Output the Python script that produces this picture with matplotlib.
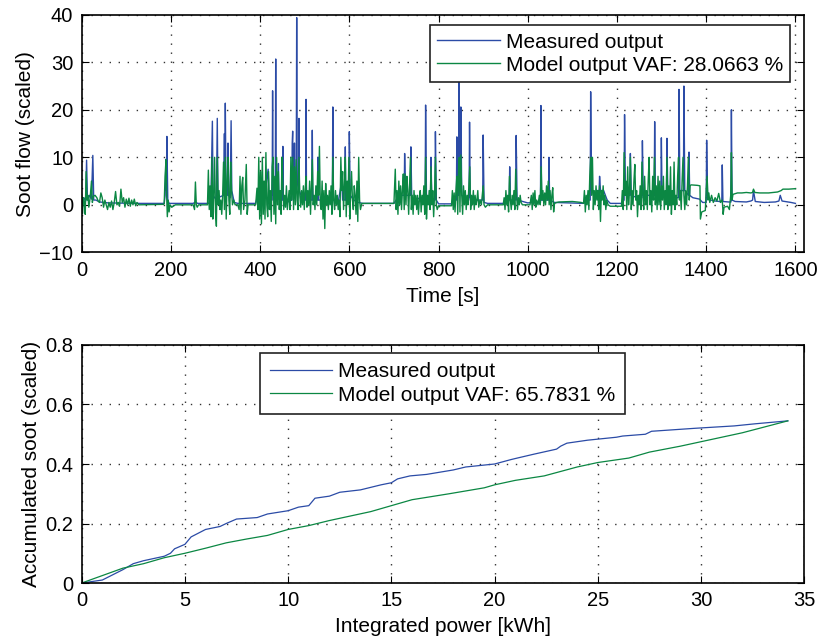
import matplotlib
matplotlib.use('Agg')
import matplotlib.pyplot as plt

# top panel: soot flow vs time, (time [s], value) break points
measured_flow = [
    (0, 0.5), (5, 1.5), (9, 0.8), (11, 9.4), (13, 1.0), (18, 2.0), (22, 1.2), (25, 10.4), (27, 1.0),
    (32, 1.0), (40, 0.6), (60, 0.4), (130, 0.3), (185, 0.3), (187, 2.0), (189, 9.6), (190, 3.0),
    (191, 14.4), (193, 1.0), (196, 0.3), (250, 0.3), (255, 0.6), (260, 0.3), (285, 0.3), (290, 2.0),
    (293, 17.6), (294.5, 2.0), (302, 1.0), (304, 18.2), (305.5, 1.5), (318, 2.0), (320, 15.0),
    (321, 4.0), (322, 21.4), (323.5, 3.0), (327, 2.0), (328, 13.0), (329.5, 2.0), (333, 1.5),
    (335, 17.7), (336.5, 3.0), (342, 0.5), (350, 0.3), (390, 0.3), (395, 2.0), (400, 4.0),
    (405, 2.0), (410, 1.5), (418, 7.5), (420, 1.0), (427, 1.0), (428, 24.0), (429, 2.0), (434, 2.0),
    (435, 30.7), (436, 3.0), (440, 2.0), (441, 8.7), (442, 1.5), (450, 1.0), (451, 12.3), (452, 1.0),
    (460, 0.5), (471, 1.0), (472, 13.0), (473, 15.5), (474, 4.0), (476, 3.0), (477, 13.0), (478, 4.0),
    (481, 3.0), (482, 39.4), (483, 5.0), (486, 3.0), (487, 18.2), (488, 3.0), (495, 1.0), (502, 1.0),
    (503, 22.2), (504, 1.0), (516, 1.0), (517, 15.7), (518, 1.0), (529, 1.0), (530, 10.0), (531, 1.0),
    (545, 1.0), (562, 1.0), (563, 20.6), (564, 1.0), (575, 0.5), (583, 5.0), (585, 1.0), (590, 1.0),
    (591, 12.2), (592, 1.0), (596, 1.0), (599, 1.0), (600, 15.4), (602, 2.0), (610, 1.0), (620, 0.5),
    (630, 0.3), (700, 0.3), (705, 1.0), (715, 2.0), (723, 2.0), (724, 10.8), (726, 2.0), (730, 2.0),
    (737, 2.0), (738, 12.2), (740, 1.0), (745, 1.0), (760, 1.5), (770, 1.5), (771, 21.0), (773, 1.0),
    (782, 1.0), (783, 10.0), (785, 1.0), (792, 1.0), (793, 15.4), (795, 1.0), (800, 0.2), (830, 0.2),
    (838, 1.0), (840, 1.0), (841, 14.3), (843, 2.0), (845, 2.0), (846, 30.0), (847.5, 3.0), (849, 3.0),
    (850, 20.6), (852, 2.0), (860, 1.5), (868.5, 1.5), (869.5, 17.4), (871, 1.0), (885, 1.0),
    (899, 1.0), (900, 14.7), (902, 0.5), (910, 0.3), (945, 0.3), (955, 1.0), (958.5, 1.0),
    (959.5, 8.0), (961, 1.0), (973, 1.0), (974, 14.6), (976, 1.0), (985, 0.8), (1000, 0.4),
    (1010, 0.5), (1028.5, 0.5), (1029.5, 20.9), (1031, 1.0), (1046.5, 1.0), (1047.5, 10.0),
    (1049, 1.0), (1060, 0.5), (1125, 0.3), (1135, 1.0), (1140, 1.0), (1141, 23.8), (1143, 3.0),
    (1150, 2.0), (1155, 3.0), (1160, 3.0), (1161, 6.0), (1163, 3.0), (1170, 3.0), (1178, 1.0),
    (1185, 0.3), (1210, 0.3), (1216, 1.0), (1217, 19.0), (1219, 2.0), (1225, 2.0), (1229, 2.0),
    (1230, 10.8), (1232, 2.0), (1245, 1.5), (1256, 1.5), (1257, 13.5), (1259, 2.0), (1270, 2.0),
    (1283.5, 2.0), (1284.5, 17.5), (1286, 2.0), (1298.5, 2.0), (1299.5, 14.1), (1301, 2.0),
    (1311, 2.0), (1312, 14.0), (1314, 2.0), (1325, 1.5), (1338, 1.5), (1339, 24.3), (1341, 3.0),
    (1349, 3.0), (1350, 25.0), (1352, 3.0), (1360.5, 2.0), (1361.5, 11.1), (1363, 2.0), (1370, 1.5),
    (1385, 1.2), (1392, 0.5), (1400, 0.5), (1401, 13.6), (1403, 2.0), (1410, 1.0), (1420, 0.8),
    (1430, 0.7), (1435, 0.7), (1436, 8.4), (1437.5, 0.7), (1450, 0.6), (1455.5, 0.6), (1456.5, 20.0),
    (1458, 1.0), (1465, 0.7), (1490, 0.6), (1500, 0.8), (1504, 1.0), (1506, 3.0), (1510, 0.7),
    (1530, 0.5), (1555, 0.6), (1563, 0.8), (1566, 2.0), (1570, 0.8), (1590, 0.5), (1600, 0.3),
]

model_flow = [
    (0, 2.2), (2, -1.8), (4, 1.5), (6, 0.5), (8, -2.0), (10, 7.0), (12, 1.0), (14, 2.0), (16, -0.5),
    (19, 1.5), (22, 5.0), (24, 0.5), (26, 1.8), (30, 2.0), (34, 1.5), (37, 0.8), (40, 0.5), (43, 2.5),
    (46, 1.5), (49, -0.5), (52, 1.0), (55, 0.0), (58, -1.0), (61, 0.5), (64, -0.5), (67, 0.8),
    (70, -1.0), (73, 0.5), (76, 2.8), (79, 0.0), (82, 0.5), (85, -0.3), (88, 3.3), (91, 0.5),
    (94, 1.5), (97, -0.5), (100, 1.2), (103, 0.0), (106, 1.4), (109, -0.3), (112, 1.0), (115, 0.0),
    (118, 1.2), (121, -0.2), (124, 0.5), (128, 0.0), (184, 0.1), (185, 0.3), (187, 6.0), (189, 9.5),
    (190.5, 2.0), (192, -2.5), (194, 1.0), (196, -1.5), (198, 0.0), (202, -0.5), (210, 0.0),
    (250, 0.0), (253, -1.0), (255, 4.8), (257, 0.0), (259, -0.5), (262, 0.0), (282, 0.0), (284, 7.3),
    (286, -1.0), (288, 4.0), (290, -2.5), (292, 10.0), (294, -3.0), (296, 2.0), (298, 10.0),
    (300, -1.5), (302, -4.5), (304, 10.0), (306, 0.0), (308, 3.0), (310, -1.0), (312, 1.0),
    (314, -2.0), (316, 2.0), (318, 9.0), (320, -1.0), (322, 10.0), (324, -3.0), (326, 5.0),
    (328, 10.0), (330, 1.0), (332, -2.0), (334, 9.0), (336, 3.0), (338, 0.0), (341, 1.0), (344, 0.0),
    (350, 0.0), (353, -1.0), (355, 6.0), (357, -2.0), (359, 4.0), (361, 5.8), (363, -1.0), (366, 1.0),
    (369, 8.5), (371, -2.0), (373, 0.0), (376, 0.0), (390, 0.0), (393, 3.5), (395, -1.0), (397, 10.0),
    (399, -3.0), (401, 7.0), (403, -4.0), (405, 10.0), (407, -2.0), (409, 5.0), (411, -3.0),
    (413, 11.0), (415, 0.0), (417, -2.5), (419, 7.0), (421, -1.0), (423, 3.0), (425, -3.5), (427, 8.0),
    (429, 10.0), (431, -2.0), (433, 6.0), (435, -4.0), (437, 10.0), (439, 0.0), (441, 7.0),
    (443, -1.0), (445, 3.0), (447, -2.0), (449, 10.0), (451, 4.0), (453, -1.0), (455, 2.0),
    (457, -0.5), (459, 4.0), (461, -1.0), (463, 1.0), (465, 3.0), (467, -1.0), (469, 10.0), (471, 1.0),
    (473, 10.0), (475, -1.0), (477, 8.0), (479, 0.0), (481, 9.5), (483, 1.0), (485, -1.0), (487, 10.0),
    (489, 2.0), (491, -0.5), (493, 3.0), (495, 0.0), (497, 4.0), (499, -1.0), (501, 3.0), (503, 6.0),
    (505, -0.5), (507, 3.0), (509, 0.0), (511, 5.0), (513, -2.0), (515, 4.0), (517, 9.5), (519, 0.0),
    (521, 2.0), (523, -1.0), (525, 4.0), (527, 0.0), (529, 7.0), (531, 2.0), (533, 12.3), (535, 0.0),
    (537, -1.0), (539, 5.0), (541, -3.0), (543, 3.0), (545, -5.0), (547, 4.5), (549, 0.0), (551, 2.0),
    (553, -1.0), (555, 3.0), (557, 0.0), (559, 4.0), (561, -2.0), (563, 10.0), (565, 1.0), (567, -1.0),
    (569, 3.0), (571, 0.0), (573, 2.0), (575, -1.0), (577, 1.0), (579, -2.5), (581, 10.0), (583, 3.0),
    (585, 7.0), (587, -1.0), (589, 4.0), (591, 10.0), (593, -2.5), (595, 5.0), (597, 0.0), (599, 10.0),
    (601, -3.0), (603, 3.0), (605, 7.0), (607, 1.0), (609, -1.0), (611, 4.0), (613, 2.0), (615, -2.0),
    (617, 5.0), (619, -3.5), (621, 10.0), (623, 1.0), (625, -1.0), (628, 0.3), (700, 0.3), (703, 7.5),
    (705, -1.0), (707, 3.0), (709, -2.0), (711, 5.0), (713, 0.0), (715, 4.0), (717, -1.0), (719, 3.0),
    (721, 6.5), (723, -1.0), (725, 6.5), (727, 0.0), (729, 6.0), (731, 3.0), (733, -2.0), (735, 4.0),
    (737, 10.0), (739, -1.0), (741, 2.0), (743, -2.0), (745, 3.0), (747, 0.0), (749, 2.0), (751, -1.0),
    (753, 2.0), (755, -2.0), (757, 1.0), (759, 3.0), (761, -1.5), (763, 2.0), (765, 0.0), (767, 4.0),
    (769, -2.0), (771, 10.0), (773, -3.0), (775, 2.0), (777, 0.0), (779, 3.0), (781, -1.0), (783, 8.0),
    (785, 0.0), (787, 3.0), (789, -2.5), (791, 2.0), (793, 10.0), (795, 0.0), (797, -1.0), (800, -0.2),
    (829, -0.2), (831, 3.0), (833, -1.0), (835, 2.5), (837, -1.5), (839, 3.0), (841, 6.0), (843, -2.0),
    (845, 8.0), (846.5, 10.0), (848, -1.5), (850, 10.5), (852, 2.0), (854, -2.0), (856, 4.0),
    (858, 0.0), (860, 3.0), (862, -1.0), (864, 2.0), (866, 0.0), (868, 4.0), (870, 8.0), (872, -1.0),
    (874, 2.0), (876, 0.0), (878, 3.0), (880, -1.0), (882, 2.0), (884, 0.0), (886, 1.0), (888, 3.0),
    (890, -0.5), (893, 1.0), (896, 0.0), (898, 2.0), (900, 4.0), (902, 0.0), (905, -0.5), (910, 0.0),
    (945, 0.0), (947, 1.5), (949, -1.0), (951, 3.0), (953, 0.0), (955, 2.0), (957, -1.5), (959, 6.0),
    (961, 1.0), (963, -1.0), (965, 2.0), (967, 0.0), (969, 3.0), (971, -1.0), (973, 7.5), (975, 2.0),
    (977, -1.0), (979, 1.5), (981, 0.0), (983, 2.0), (985, 0.5), (988, 0.0), (1005, 0.0), (1008, 2.0),
    (1010, -1.0), (1012, 2.5), (1014, 0.0), (1016, 3.0), (1018, -0.5), (1020, 1.0), (1023, 0.0),
    (1026, 2.0), (1028, 0.0), (1030, 8.0), (1032, 1.0), (1034, 3.0), (1036, 0.0), (1038, 2.5),
    (1040, 0.0), (1042, 4.0), (1044, 1.0), (1046, 5.0), (1048, 0.0), (1050, 3.0), (1052, -1.0),
    (1054, 2.0), (1056, 3.6), (1058, -1.5), (1060, 0.3), (1065, 0.5), (1070, 0.6), (1100, 0.7),
    (1120, 0.5), (1125, 0.3), (1127, 3.0), (1129, -1.5), (1131, 2.0), (1133, 0.0), (1135, 3.0),
    (1137, -1.0), (1139, 6.0), (1141, 10.0), (1143, 2.0), (1145, 10.0), (1147, -1.0), (1149, 3.0),
    (1151, 0.0), (1153, 4.0), (1155, 1.0), (1157, 3.0), (1159, -1.0), (1161, 4.0), (1163, -3.5),
    (1165, 3.0), (1167, 1.0), (1169, 4.0), (1171, 0.0), (1173, 2.0), (1175, -1.0), (1177, 1.0),
    (1180, 0.0), (1185, -0.3), (1210, -0.3), (1212, 3.0), (1214, -1.0), (1216, 11.0), (1218, 2.0),
    (1220, 5.0), (1222, -1.0), (1224, 8.0), (1226, 0.0), (1228, 3.0), (1230, 10.0), (1232, -1.0),
    (1234, 3.0), (1236, 0.0), (1238, 5.0), (1240, 8.5), (1242, 1.0), (1244, 3.0), (1246, -2.5),
    (1248, 2.0), (1250, 0.0), (1252, 4.0), (1254, -1.0), (1256, 9.0), (1258, 2.0), (1260, -1.0),
    (1262, 6.0), (1264, 0.0), (1266, 3.0), (1268, -1.0), (1270, 5.0), (1272, 10.0), (1274, 0.0),
    (1276, 3.0), (1278, -1.5), (1280, 6.0), (1282, 1.0), (1284, 10.0), (1286, 0.0), (1288, 4.0),
    (1290, -1.0), (1292, 6.0), (1294, 0.0), (1296, 5.0), (1298, -1.0), (1300, 4.0), (1302, 1.0),
    (1304, 6.0), (1306, -1.0), (1308, 3.0), (1310, 0.0), (1312, 10.0), (1314, -1.0), (1316, 4.0),
    (1318, 0.0), (1320, 8.0), (1322, -2.0), (1324, 3.0), (1326, 0.0), (1328, 9.0), (1330, -1.0),
    (1332, 2.0), (1334, 0.0), (1336, 6.0), (1338, 10.0), (1340, 1.0), (1342, 3.0), (1344, -1.0),
    (1346, 5.0), (1348, 10.0), (1350, 2.0), (1352, -1.0), (1354, 3.0), (1356, 0.0), (1358, 4.0),
    (1360, 10.0), (1362, 1.0), (1364, 4.0), (1366, 4.2), (1380, 4.1), (1386, 4.0), (1387, -3.0),
    (1390, -1.5), (1398, -1.2), (1400, 3.0), (1402, 6.0), (1404, 1.0), (1406, 2.5), (1408, 0.5),
    (1412, 2.0), (1416, 0.5), (1420, 1.5), (1424, 0.8), (1428, 2.4), (1432, 0.5), (1436, 1.0),
    (1438, -2.0), (1440, -0.5), (1448, -0.3), (1452, -1.0), (1455, 2.0), (1456.5, 11.0), (1458, 1.0),
    (1460, 2.2), (1470, 2.5), (1480, 2.5), (1490, 2.6), (1500, 2.5), (1504, 2.6), (1506, 3.3),
    (1509, 2.6), (1520, 2.5), (1540, 2.5), (1560, 2.7), (1568, 3.0), (1572, 3.3), (1585, 3.3),
    (1600, 3.4),
]

# bottom panel: accumulated soot vs integrated power [kWh]
measured_acc = [
    (0, 0.0), (1, 0.01), (2, 0.045), (2.5, 0.065), (3, 0.075), (4, 0.09), (4.3, 0.1), (4.5, 0.115),
    (5, 0.13), (5.3, 0.155), (6, 0.18), (6.7, 0.19), (7, 0.2), (7.5, 0.215), (8.5, 0.22), (9, 0.232),
    (10, 0.243), (10.5, 0.255), (11, 0.26), (11.3, 0.285), (12, 0.292), (12.5, 0.305), (13.5, 0.313),
    (14.5, 0.33), (15, 0.337), (15.3, 0.35), (15.9, 0.36), (16.7, 0.365), (18, 0.38), (18.6, 0.39),
    (20, 0.4), (20.8, 0.415), (21.1, 0.42), (21.9, 0.433), (23, 0.45), (23.2, 0.46), (23.5, 0.47),
    (24.5, 0.48), (25.9, 0.49), (26.2, 0.494), (27.3, 0.5), (27.6, 0.51), (29.7, 0.52),
    (31.6, 0.528), (32.6, 0.535), (34.2, 0.545),
]
model_acc = [
    (0, 0.0), (1, 0.025), (2, 0.05), (3, 0.065), (4, 0.085), (5, 0.1), (6, 0.117), (7, 0.135),
    (8, 0.148), (9, 0.16), (10, 0.18), (11, 0.193), (12, 0.21), (13, 0.225), (14, 0.24), (15, 0.26),
    (16, 0.28), (17.8, 0.3), (19.5, 0.32), (20, 0.33), (21, 0.345), (22.4, 0.36), (24, 0.39),
    (25, 0.405), (26.5, 0.42), (27.5, 0.44), (29, 0.46), (30, 0.475), (32, 0.505), (34.2, 0.545),
]

vaf_flow = 28.0663
vaf_acc = 65.7831

BLUE = '#2B4BA6'
GREEN = '#0B8743'

plt.rcParams['font.family'] = ['Liberation Sans', 'DejaVu Sans']


def style_axes(ax):
    ax.grid(True, linestyle=(0, (1, 5.5)), color='#333333', linewidth=1.0)
    ax.tick_params(direction='in', top=True, right=True, labelsize=14.5, length=5, pad=6)
    for s in ax.spines.values():
        s.set_linewidth(1.2)


def add_legend(ax, anchor, loc, pad):
    leg = ax.legend(loc=loc, bbox_to_anchor=anchor, borderaxespad=0,
                    fontsize=15, fancybox=False, framealpha=1, edgecolor='#222222',
                    handlelength=3.0, borderpad=pad, labelspacing=0.2, handletextpad=0.3)
    leg.get_frame().set_linewidth(1.2)


fig = plt.figure(figsize=(8.2, 6.44), dpi=100)
ax1 = fig.add_axes([0.0996, 0.6082, 0.8813, 0.3688])
ax2 = fig.add_axes([0.0996, 0.0947, 0.8813, 0.3696])

t, v = zip(*measured_flow)
ax1.plot(t, v, color=BLUE, linewidth=1.0, label='Measured output')
t, v = zip(*model_flow)
ax1.plot(t, v, color=GREEN, linewidth=1.0, label='Model output VAF: %.4f %%' % vaf_flow)
ax1.set_xlim(0, 1620)
ax1.set_ylim(-10, 40)
ax1.set_xticks(range(0, 1601, 200))
ax1.set_yticks(range(-10, 41, 10))
ax1.set_yticklabels(['\u221210', '0', '10', '20', '30', '40'])
ax1.set_xlabel('Time [s]', fontsize=15, labelpad=5)
ax1.set_ylabel('Soot flow (scaled)', fontsize=15, labelpad=3)
style_axes(ax1)
add_legend(ax1, (0.9807, 0.955), 'upper right', 0.34)

x, y = zip(*measured_acc)
ax2.plot(x, y, color=BLUE, linewidth=0.9, label='Measured output')
x, y = zip(*model_acc)
ax2.plot(x, y, color=GREEN, linewidth=0.9, label='Model output VAF: %.4f %%' % vaf_acc)
ax2.set_xlim(0, 35)
ax2.set_ylim(0, 0.8)
ax2.set_xticks(range(0, 36, 5))
ax2.set_yticks([0, 0.2, 0.4, 0.6, 0.8])
ax2.set_yticklabels(['0', '0.2', '0.4', '0.6', '0.8'])
ax2.set_xlabel('Integrated power [kWh]', fontsize=15, labelpad=5)
ax2.set_ylabel('Accumulated soot (scaled)', fontsize=15, labelpad=3)
style_axes(ax2)
add_legend(ax2, (0.4994, 0.966), 'upper center', 0.45)

plt.savefig('out.png', dpi=100)
